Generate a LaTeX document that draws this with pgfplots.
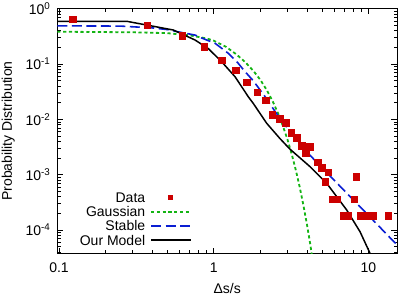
\documentclass[border=0pt]{standalone}
\usepackage{pgfplots}
\pgfplotsset{compat=1.18}
\usepackage{fontspec}
\setmainfont{Liberation Sans}
\definecolor{datared}{RGB}{204,0,0}
\definecolor{gaussgreen}{RGB}{20,180,20}
\definecolor{stableblue}{RGB}{10,30,210}
\pgfplotsset{
  mylinelegend/.style={legend image code/.code={\draw[##1] (0pt,0pt) -- (40pt,0pt);}},
  mymarklegend/.style={legend image code/.code={\path[draw=none,fill=none] (0pt,-1pt) rectangle (40pt,1pt); \fill[datared,draw=none] (16.8pt,-2.8pt) rectangle (22.4pt,2.8pt);}},
}
\begin{document}
\fontsize{14}{16}\selectfont
\begin{tikzpicture}
\begin{loglogaxis}[
  scale only axis, width=339.7pt, height=244.6pt,
  xmin=0.0975, xmax=15.3, ymin=3.8e-5, ymax=1,
  xtick={0.1,1,10}, xticklabels={0.1,1,10},
  ytick={1e-4,1e-3,1e-2,1e-1,1},
  yticklabels={10\textsuperscript{-4},10\textsuperscript{-3},10\textsuperscript{-2},10\textsuperscript{-1},10\textsuperscript{0}},
  minor xtick={0.2,0.3,0.4,0.5,0.6,0.7,0.8,0.9,2,3,4,5,6,7,8,9},
  minor ytick={4e-5,5e-5,6e-5,7e-5,8e-5,9e-5,2e-4,3e-4,4e-4,5e-4,6e-4,7e-4,8e-4,9e-4,2e-3,3e-3,4e-3,5e-3,6e-3,7e-3,8e-3,9e-3,0.02,0.03,0.04,0.05,0.06,0.07,0.08,0.09,0.2,0.3,0.4,0.5,0.6,0.7,0.8,0.9},
  major tick length=5.7pt, minor tick length=3.3pt,
  tick style={black, line width=0.7pt},
  axis line style={line width=0.9pt},
  tick label style={font=\fontsize{14}{16}\selectfont},
  xticklabel style={yshift=-5pt},
  yticklabel style={xshift=-2pt},
  label style={font=\fontsize{14}{16}\selectfont},
  xlabel={Δs/s},
  xlabel style={at={(axis description cs:0.5,-0.1431)}, anchor=center},
  ylabel={Probability Distribution},
  ylabel style={at={(axis description cs:-0.1443,0.5)}, anchor=center},
  legend plot pos=right,
  legend style={at={(axis description cs:0.3965,0.2494)}, anchor=north east,
    draw=none, fill=none, inner sep=0pt, outer sep=0pt,
    row sep=4.3pt, column sep=5pt,
    nodes={inner sep=0pt, text height=10pt, text depth=0pt},
    cells={anchor=east},
    font=\fontsize{14}{16}\selectfont},
]
\addplot[only marks, mark=square*, mark size=3.3pt, color=datared, mymarklegend]
coordinates {
(0.123,0.65) (0.372,0.507) (0.624,0.325) (0.87,0.205) (1.13,0.118)
(1.39,0.078) (1.64,0.047) (1.905,0.031) (2.16,0.0223) (2.39,0.0121)
(2.67,0.0104) (2.93,0.0088) (3.17,0.0057) (3.44,0.00465) (3.7,0.00333)
(4.19,0.0032) (3.93,0.00243) (4.7,0.00167) (5.01,0.00133) (5.51,0.00111)
(5.24,0.000744) (8.32,0.00093) (5.82,0.000362) (6.24,0.000362) (8.11,0.000362)
(6.88,0.000181) (7.42,0.000181) (8.91,0.000181) (9.75,0.000181) (10.76,0.000181)
(13.4,0.000181)
};
\addlegendentry{Data}
\addplot[gaussgreen, line width=1.8pt, dash pattern=on 3.2pt off 2.6pt, mylinelegend] coordinates {
(0.0975,0.384) (0.3,0.375) (0.5,0.362) (0.7,0.33) (0.9,0.29) (1.0,0.265)
(1.2,0.205) (1.4,0.15) (1.6,0.108) (1.8,0.076) (2.0,0.052) (2.2,0.034)
(2.4,0.0215) (2.6,0.0131) (2.8,0.0076) (3.0,0.0043) (3.2,0.0023)
(3.4,0.00119) (3.6,0.00059) (3.8,0.00028) (4.0,0.000129) (4.2,5.7e-5) (4.4,2.4e-5)
};
\addlegendentry{Gaussian}
\addplot[stableblue, line width=1.6pt, dash pattern=on 10pt off 4.5pt, mylinelegend] coordinates {
(0.0975,0.49) (0.25,0.485) (0.4,0.45) (0.5,0.42) (0.6,0.378) (0.757,0.334)
(0.85,0.29) (1.02,0.237) (1.243,0.156) (1.44,0.103) (1.6,0.072) (1.8,0.05)
(2.15,0.0256) (2.5,0.0137) (2.89,0.0079) (3.36,0.0047) (3.79,0.003)
(5,0.00135) (7,0.000513) (10,0.000184) (15.6,5.1e-5)
};
\addlegendentry{Stable}
\addplot[black, line width=1.5pt, mylinelegend] coordinates {
(0.0975,0.59) (0.276,0.59) (0.548,0.412) (0.757,0.272) (0.923,0.19)
(1.126,0.11) (1.373,0.059) (1.674,0.0256) (1.8,0.0195) (2.2,0.0085)
(2.68,0.0045) (3.11,0.0029) (4.19,0.0014) (5.37,0.0007) (7.24,0.00023)
(8.83,9.3e-5) (10.24,3.8e-5) (10.6,2.8e-5)
};
\addlegendentry{Our Model}
\coordinate (ll) at (rel axis cs:0,0);
\end{loglogaxis}
\pgfresetboundingbox
\path[use as bounding box] (ll) ++(-57.3pt,-41.7pt) rectangle ++(399pt,295pt);
\end{tikzpicture}
\end{document}
